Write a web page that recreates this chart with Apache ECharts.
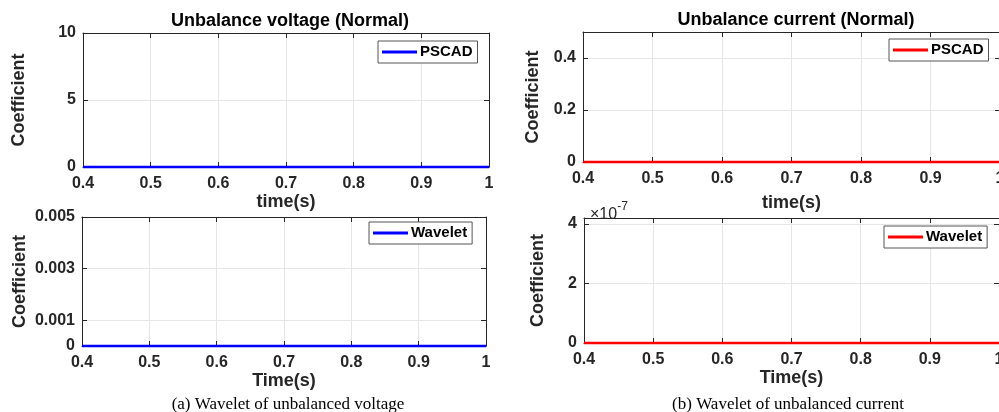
<!DOCTYPE html>
<html>
<head>
<meta charset="utf-8">
<script src="https://cdn.jsdelivr.net/npm/echarts@6/dist/echarts.min.js"></script>
<style>html,body{margin:0;padding:0;background:#fff;}#c{width:999px;height:412px;}</style>
</head>
<body>
<div id="c"></div>
<script>
// ---- data ----
var time = [0.4, 0.5, 0.6, 0.7, 0.8, 0.9, 1.0];
var voltagePSCAD = [0, 0, 0, 0, 0, 0, 0];
var voltageWavelet = [0, 0, 0, 0, 0, 0, 0];
var currentPSCAD = [0, 0, 0, 0, 0, 0, 0];
var currentWavelet = [0, 0, 0, 0, 0, 0, 0];
var xTicks = [0.4, 0.5, 0.6, 0.7, 0.8, 0.9, 1.0];
var yTicksVoltPSCAD = [0, 5, 10];
var yTicksVoltWavelet = [0, 0.001, 0.003, 0.005];
var yTicksCurrPSCAD = [0, 0.2, 0.4];
var yTicksCurrWavelet = [0, 2e-7, 4e-7];
var titles = ['Unbalance voltage (Normal)', 'Unbalance current (Normal)'];
var captions = ['(a) Wavelet of unbalanced voltage', '(b) Wavelet of unbalanced current'];

function pairs(xs, ys) { return xs.map(function (x, i) { return [x, ys[i]]; }); }

var TXT = '#262626';
var FONT = 'Liberation Sans, Arial, sans-serif';
var grids = [
  {left: 83, top: 33, width: 406, height: 134},
  {left: 82, top: 217, width: 404, height: 129},
  {left: 583, top: 32, width: 417, height: 130},
  {left: 584, top: 218, width: 415, height: 125}
];
var panels = [
  {yMax: 10, yTicks: yTicksVoltPSCAD, xName: 'time(s)', xGap: 26, yGap: 55, xMargin: 9, color: '#0000ff', name: 'PSCAD', data: voltagePSCAD, fmt: function (v) { return String(v); }, legend: {left: 378, top: 41}},
  {yMax: 0.005, yTicks: yTicksVoltWavelet, xName: 'Time(s)', xGap: 23, yGap: 53, xMargin: 9, color: '#0000ff', name: 'Wavelet', data: voltageWavelet, fmt: function (v) { return v === 0 ? '0' : v.toFixed(3); }, legend: {left: 369, top: 222}},
  {yMax: 0.5, yTicks: yTicksCurrPSCAD, xName: 'time(s)', xGap: 32, yGap: 41, xMargin: 9, color: '#ff0000', name: 'PSCAD', data: currentPSCAD, fmt: function (v) { return v === 0 ? '0' : v.toFixed(1); }, legend: {left: 889, top: 39}},
  {yMax: 4.2e-7, yTicks: yTicksCurrWavelet, xName: 'Time(s)', xGap: 21, yGap: 37, xMargin: 9, color: '#ff0000', name: 'Wavelet', data: currentWavelet, fmt: function (v) { return String(Math.round(v * 1e7)); }, legend: {left: 884, top: 226}}
];

var xAxes = [], yAxes = [], series = [], legends = [];
panels.forEach(function (p, i) {
  var tickStyle = {show: true, inside: true, length: 5, lineStyle: {color: TXT, width: 1}};
  xAxes.push({
    type: 'value', gridIndex: i, position: 'bottom', min: 0.4, max: 1.0, interval: 0.1,
    name: p.xName, nameLocation: 'middle', nameGap: p.xGap,
    nameTextStyle: {color: TXT, fontFamily: FONT, fontWeight: 'bold', fontSize: 18},
    axisLine: {show: true, onZero: false, lineStyle: {color: TXT, width: 1}},
    axisTick: tickStyle,
    axisLabel: {color: TXT, fontFamily: FONT, fontWeight: 'bold', fontSize: 16, margin: p.xMargin,
      showMinLabel: true, showMaxLabel: true, hideOverlap: false,
      formatter: function (v) { var r = Math.round(v * 10) / 10; return r === 1 ? '1' : r.toFixed(1); }},
    splitLine: {show: true, lineStyle: {color: '#e6e6e6', width: 1}}
  });
  xAxes.push({
    type: 'value', gridIndex: i, position: 'top', min: 0.4, max: 1.0, interval: 0.1,
    axisLine: {show: true, onZero: false, lineStyle: {color: TXT, width: 1}},
    axisTick: tickStyle, axisLabel: {show: false}, splitLine: {show: false}
  });
  yAxes.push({
    type: 'value', gridIndex: i, position: 'left', min: 0, max: p.yMax,
    name: 'Coefficient', nameLocation: 'middle', nameGap: p.yGap, nameRotate: 90,
    nameTextStyle: {color: TXT, fontFamily: FONT, fontWeight: 'bold', fontSize: 18},
    axisLine: {show: true, onZero: false, lineStyle: {color: TXT, width: 1}},
    axisTick: {show: true, inside: true, length: 5, lineStyle: {color: TXT, width: 1}, customValues: p.yTicks},
    axisLabel: {color: TXT, fontFamily: FONT, fontWeight: 'bold', fontSize: 16, margin: 7, customValues: p.yTicks, formatter: p.fmt},
    splitLine: {show: true, lineStyle: {color: '#e6e6e6', width: 1}}
  });
  yAxes.push({
    type: 'value', gridIndex: i, position: 'right', min: 0, max: p.yMax,
    axisLine: {show: true, onZero: false, lineStyle: {color: TXT, width: 1}},
    axisTick: {show: true, inside: true, length: 5, lineStyle: {color: TXT, width: 1}, customValues: p.yTicks},
    axisLabel: {show: false, customValues: p.yTicks}, splitLine: {show: false}
  });
  series.push({
    type: 'line', name: p.name + i, xAxisIndex: 2 * i, yAxisIndex: 2 * i,
    data: pairs(time, p.data), showSymbol: false, symbol: 'none', clip: false,
    lineStyle: {color: p.color, width: 2.5}, itemStyle: {color: p.color}, z: 5
  });
  legends.push({
    left: p.legend.left, top: p.legend.top, orient: 'vertical',
    data: [{name: p.name + i, icon: 'rect'}],
    formatter: function () { return p.name; },
    itemWidth: 35, itemHeight: 3, itemGap: 0,
    padding: [3, 5, 3, 4], backgroundColor: '#fff', borderColor: '#555', borderWidth: 1,
    textStyle: {color: '#000', fontFamily: FONT, fontWeight: 'bold', fontSize: 15, lineHeight: 16, padding: [0, 0, 0, -2]},
    selectedMode: false
  });
});

var option = {
  animation: false,
  backgroundColor: '#fff',
  title: [
    {text: titles[0], left: 285, top: 7, textAlign: 'center', textStyle: {color: '#000', fontFamily: FONT, fontWeight: 'bold', fontSize: 18}},
    {text: titles[1], left: 791, top: 6, textAlign: 'center', textStyle: {color: '#000', fontFamily: FONT, fontWeight: 'bold', fontSize: 18}},
    {text: captions[0], left: 283, top: 391, textAlign: 'center', textStyle: {color: '#000', fontFamily: 'Liberation Serif, Times New Roman, serif', fontWeight: 'normal', fontSize: 17}},
    {text: captions[1], left: 783, top: 391, textAlign: 'center', textStyle: {color: '#000', fontFamily: 'Liberation Serif, Times New Roman, serif', fontWeight: 'normal', fontSize: 17}},
    {text: '{a|×10}{b|-7}', left: 585, top: 196, textStyle: {rich: {
      a: {color: TXT, fontFamily: FONT, fontSize: 16, fontWeight: 'normal', verticalAlign: 'bottom', lineHeight: 22},
      b: {color: TXT, fontFamily: FONT, fontSize: 12, fontWeight: 'normal', verticalAlign: 'top', lineHeight: 22}}}}
  ],
  grid: grids.map(function (g) { return Object.assign({show: false, containLabel: false, outerBoundsMode: 'none'}, g); }),
  xAxis: xAxes,
  yAxis: yAxes,
  legend: legends,
  series: series
};
var chart = echarts.init(document.getElementById('c'), null, {renderer: 'canvas'});
chart.setOption(option);
</script>
</body>
</html>
